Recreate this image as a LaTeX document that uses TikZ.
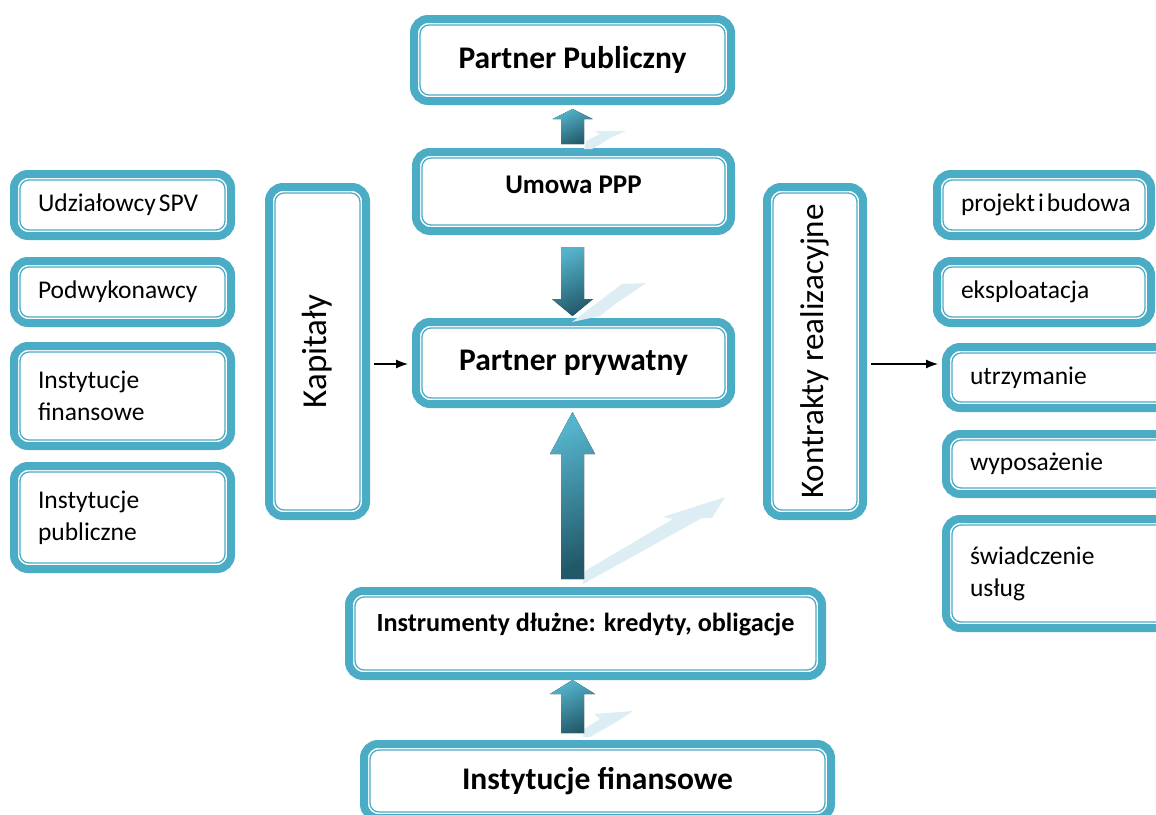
\documentclass[tikz,border=0pt]{standalone}
\usepackage{fontspec}
\setmainfont{Carlito}
\usetikzlibrary{calc,arrows.meta}
\definecolor{boxteal}{HTML}{4BACC6}
\definecolor{arrlight}{HTML}{55B4CC}
\definecolor{arrdark}{HTML}{22596A}
\definecolor{refl}{HTML}{DCEEF4}
\tikzset{
  pbox/.style={draw=boxteal, line width=8pt, rounded corners=14pt, fill=white,
    inner sep=0pt, align=center, text=black,
    path picture={\draw[boxteal, line width=1.3pt, rounded corners=9pt]
      ([shift={(6pt,6pt)}]path picture bounding box.south west) rectangle
      ([shift={(-6pt,-6pt)}]path picture bounding box.north east);}},
  sidebox/.style={pbox, align=left, inner xsep=24pt, font=\fontsize{25.5}{32}\selectfont},
  mainbox/.style={pbox, font=\bfseries\fontsize{31.5}{36}\selectfont},
  midbox/.style={pbox, font=\bfseries\fontsize{27}{30}\selectfont},
  vtext/.style={rotate=90, inner sep=0pt, font=\fontsize{33}{36}\selectfont},
  thinarrow/.style={-{Latex[length=12pt,width=9pt]}, line width=1.2pt, black},
  blockfill/.style={top color=arrlight, bottom color=arrdark, shading angle=25},
  reflfill/.style={fill=refl},
}
\newcommand\blkarr[5]{%
  \fill[blockfill] ($(#1)+(-#3,0)$) -- ($(#2)+(-#3,#5)$) -- ($(#2)+(-#4,#5)$) -- (#2)
    -- ($(#2)+(#4,#5)$) -- ($(#2)+(#3,#5)$) -- ($(#1)+(#3,0)$) -- cycle;}
\newcommand\upby[2]{\raisebox{#1}[\height][\depth]{#2}}
\begin{document}
\begin{tikzpicture}[x=1pt, y=-1pt]
\useasboundingbox (0,0) rectangle (1156,814);
\clip (0,0) rectangle (1156,814);
\fill[white] (0,0) rectangle (1156,814);

% central column
\node[mainbox, minimum width=317pt, minimum height=82pt] (pub) at (572.5,60) {Partner Publiczny};
\node[midbox, minimum width=315pt, minimum height=79pt] (umo) at (573.5,191.5) {\upby{7pt}{Umowa PPP}};
\node[mainbox, minimum width=315pt, minimum height=82pt] (pp) at (573.5,363) {Partner prywatny};
\node[midbox, font=\bfseries\fontsize{26.2}{28}\selectfont, minimum width=473pt, minimum height=85pt] (ins) at (585.5,633.5) {\upby{9pt}{Instrumenty dłużne: kredyty, obligacje}};
\node[mainbox, minimum width=467pt, minimum height=74pt] (bot) at (597.5,781) {Instytucje finansowe};

% left column
\node[sidebox, minimum width=217pt, minimum height=62pt, text width=169pt] (uds) at (122.5,205) {\mbox{Udziałowcy\hspace{3pt}SPV}};
\node[sidebox, minimum width=217pt, minimum height=62pt, text width=169pt] (pod) at (122.5,292) {Podwykonawcy};
\node[sidebox, minimum width=217pt, minimum height=100pt, text width=169pt] (ifi) at (122.5,396) {Instytucje\\finansowe};
\node[sidebox, minimum width=217pt, minimum height=103pt, text width=169pt] (ipu) at (122.5,517.5) {Instytucje\\publiczne};
\node[pbox, minimum width=97pt, minimum height=329pt] (kap) at (317.5,351.5) {};
\node[vtext, font=\fontsize{35}{38}\selectfont] (kapt) at (kap) {Kapitały};

% right column
\node[pbox, minimum width=96pt, minimum height=329pt] (kon) at (815,351.5) {};
\node[vtext] (kont) at (kon) {Kontrakty realizacyjne};
\node[sidebox, minimum width=214pt, minimum height=62pt, text width=166pt] (prj) at (1044,205) {\mbox{projekt\hspace{3pt}i\hspace{3pt}budowa}};
\node[sidebox, minimum width=214pt, minimum height=62pt, text width=166pt] (eks) at (1044,292) {eksploatacja};
\node[sidebox, minimum width=225pt, minimum height=61pt, text width=177pt] (utr) at (1058.5,377.5) {utrzymanie};
\node[sidebox, minimum width=225pt, minimum height=60pt, text width=177pt] (wyp) at (1058.5,464) {wyposażenie};
\node[sidebox, minimum width=225pt, minimum height=109pt, text width=177pt] (swi) at (1058.5,573.5) {świadczenie\\usług};

% thin arrows
\draw[thinarrow] ($(kap.east |- pp.west)+(4,1)$) -- ($(pp.west)+(-4,1)$);
\draw[thinarrow] ($(kon.east |- pp.west)+(4,1)$) -- ($(utr.west |- pp.west)+(-4,1)$);

% reflections
\fill[reflfill] (584,149) -- (586,141) -- (600,134) -- (594,131) -- (626,131) -- (612,137) -- (592,149) -- cycle;
\fill[reflfill] (572,322) -- (622,284) -- (646,283) -- (614,305) -- (600,316) -- cycle;
\fill[reflfill] (583,584) -- (585,571) -- (673,519) -- (663,517) -- (725,497) -- (712,518) -- (702,518) -- cycle;
\fill[reflfill] (583,737) -- (584,729) -- (600,719) -- (594,714) -- (633,711) -- (618,721) -- (590,737) -- cycle;

% block arrows
\coordinate (a1s) at ($(pub.south |- umo.north)+(0,-4)$);
\coordinate (a1t) at ($(pub.south)+(0,4)$);
\coordinate (a2s) at ($(pub.south |- umo.south)+(0,12)$);
\coordinate (a2t) at ($(pub.south |- pp.north)+(0,-2)$);
\coordinate (a3s) at ($(pub.south |- ins.north)+(0,-8)$);
\coordinate (a3t) at ($(pub.south |- pp.south)+(0,4)$);
\coordinate (a4s) at ($(pub.south |- bot.north)+(0,-7)$);
\coordinate (a4t) at (pub.south |- ins.south);
\blkarr{a1s}{a1t}{11.5}{20}{10}
\blkarr{a2s}{a2t}{11.5}{20.5}{-17}
\blkarr{a3s}{a3t}{11.5}{22.5}{42}
\blkarr{a4s}{a4t}{11.5}{22.5}{14}
\end{tikzpicture}
\end{document}
